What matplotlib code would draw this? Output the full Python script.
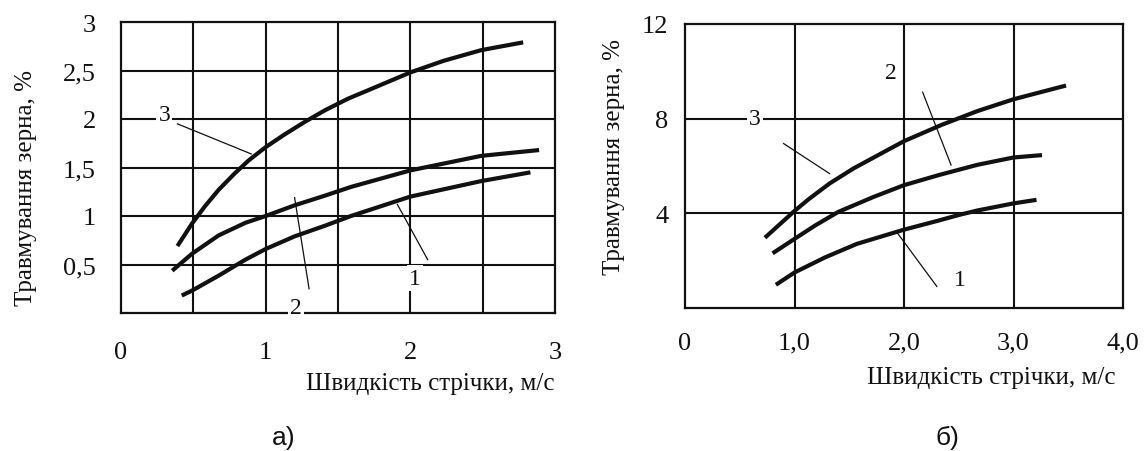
import numpy as np
import matplotlib
matplotlib.use("Agg")
import matplotlib.pyplot as plt

plt.rcParams["font.family"] = ["Liberation Serif", "DejaVu Serif"]

# ---- panel а): grain damage vs belt speed ----
A_X1 = [0.42, 0.49, 0.675, 0.86, 1.00, 1.20, 1.41, 1.59, 2.00, 2.49, 2.83]
A_Y1 = [0.18, 0.23, 0.385, 0.55, 0.66, 0.79, 0.90, 1.00, 1.20, 1.36, 1.45]
A_X2 = [0.354, 0.49, 0.675, 0.86, 1.00, 1.20, 1.41, 1.59, 2.00, 2.49, 2.89]
A_Y2 = [0.436, 0.61, 0.80, 0.93, 1.00, 1.11, 1.21, 1.30, 1.47, 1.62, 1.68]
A_X3 = [0.39, 0.49, 0.58, 0.675, 0.78, 0.88, 1.00, 1.13, 1.27, 1.41, 1.57,
        1.73, 2.00, 2.23, 2.49, 2.78]
A_Y3 = [0.69, 0.92, 1.10, 1.27, 1.43, 1.57, 1.71, 1.84, 1.97, 2.09, 2.21,
        2.31, 2.48, 2.60, 2.71, 2.79]

# ---- panel б) ----
B_X1 = [0.83, 1.00, 1.28, 1.57, 2.00, 2.32, 2.50, 2.67, 3.00, 3.21]
B_Y1 = [0.98, 1.50, 2.14, 2.71, 3.31, 3.70, 3.93, 4.12, 4.42, 4.57]
B_X2 = [0.80, 1.00, 1.19, 1.40, 1.72, 2.00, 2.32, 2.67, 3.00, 3.26]
B_Y2 = [2.31, 2.92, 3.49, 4.06, 4.69, 5.19, 5.62, 6.05, 6.36, 6.46]
B_X3 = [0.73, 1.00, 1.13, 1.32, 1.54, 1.84, 2.00, 2.35, 2.67, 3.00, 3.48]
B_Y3 = [2.97, 4.10, 4.60, 5.26, 5.90, 6.65, 7.05, 7.75, 8.32, 8.82, 9.40]

A_XTICKS = [0, 1, 2, 3]
A_XLABELS = ["0", "1", "2", "3"]
A_YTICKS = [0.5, 1, 1.5, 2, 2.5, 3]
A_YLABELS = ["0,5", "1", "1,5", "2", "2,5", "3"]
B_XTICKS = [0, 1, 2, 3, 4]
B_XLABELS = ["0", "1,0", "2,0", "3,0", "4,0"]
B_YTICKS = [4, 8, 12]
B_YLABELS = ["4", "8", "12"]

XLABEL = "Швидкість стрічки, м/с"
YLABEL = "Травмування зерна, %"

# curve number labels: (text, label x, y, leader start x, y, leader end x, y)
A_NOTES = [("3", 0.30, 2.05, 0.39, 1.95, 0.90, 1.64),
           ("2", 1.21, 0.06, 1.30, 0.25, 1.20, 1.19),
           ("1", 2.03, 0.36, 2.12, 0.55, 1.91, 1.12)]
B_NOTES = [("3", 0.64, 8.00, 0.90, 6.95, 1.32, 5.68),
           ("2", 1.88, 9.96, 2.17, 9.12, 2.43, 6.04),
           ("1", 2.51, 1.19, 2.30, 0.91, 1.93, 3.23)]

INK = "#111111"

fig = plt.figure(figsize=(11.48, 4.52), dpi=100)
fig.patch.set_facecolor("white")
axA = fig.add_axes([121 / 1148, 1 - 314 / 452, 434 / 1148, 291 / 452])
axB = fig.add_axes([685 / 1148, 1 - 309 / 452, 438 / 1148, 284 / 452])


def style(ax, xlim, ylim, xt, xl, yt, yl, xgrid, ygrid, xpad, ypad):
    ax.set_xlim(*xlim)
    ax.set_ylim(*ylim)
    ax.set_xticks(xt)
    ax.set_xticklabels(xl)
    ax.set_yticks(yt)
    ax.set_yticklabels(yl)
    ax.tick_params(length=0, labelsize=19, colors=INK)
    ax.tick_params(axis="x", pad=xpad)
    ax.tick_params(axis="y", pad=ypad)
    for s in ax.spines.values():
        s.set_linewidth(1.6)
        s.set_color(INK)
    for g in xgrid:
        ax.axvline(g, color=INK, lw=1.5, zorder=1)
    for g in ygrid:
        ax.axhline(g, color=INK, lw=1.5, zorder=1)


style(axA, (0, 3), (0, 3), A_XTICKS, A_XLABELS, A_YTICKS, A_YLABELS,
      [0.5, 1, 1.5, 2, 2.5], [0.5, 1, 1.5, 2, 2.5], 20, 18)
style(axB, (0, 4), (0, 12), B_XTICKS, B_XLABELS, B_YTICKS, B_YLABELS,
      [1, 2, 3], [4, 8], 17, 12)

for ax, curves, notes in [
        (axA, [(A_X1, A_Y1), (A_X2, A_Y2), (A_X3, A_Y3)], A_NOTES),
        (axB, [(B_X1, B_Y1), (B_X2, B_Y2), (B_X3, B_Y3)], B_NOTES)]:
    for xs, ys in curves:
        ax.plot(xs, ys, color=INK, lw=3.0, zorder=3,
                solid_capstyle="butt", solid_joinstyle="round")
    for t, lx, ly, x0, y0, x1, y1 in notes:
        ax.plot([x0, x1], [y0, y1], color=INK, lw=0.9, zorder=2)
        ax.text(lx, ly, t, fontsize=17, color=INK, ha="center", va="center",
                zorder=4, bbox=dict(fc="white", ec="none", pad=1.5))

fig.text(26 / 1148, 1 - 188 / 452, YLABEL, rotation=90, fontsize=18,
         ha="center", va="center", color=INK)
fig.text(614 / 1148, 1 - 157 / 452, YLABEL, rotation=90, fontsize=18,
         ha="center", va="center", color=INK)
fig.text(430 / 1148, 1 - 384 / 452, XLABEL, fontsize=18,
         ha="center", va="center", color=INK)
fig.text(991 / 1148, 1 - 378 / 452, XLABEL, fontsize=18,
         ha="center", va="center", color=INK)
fig.text(284 / 1148, 1 - 438 / 452, "а)", fontsize=19, family="Liberation Sans",
         ha="center", va="center", color=INK)
fig.text(947 / 1148, 1 - 438 / 452, "б)", fontsize=19, family="Liberation Sans",
         ha="center", va="center", color=INK)

fig.savefig("out.png", dpi=100, facecolor="white")
